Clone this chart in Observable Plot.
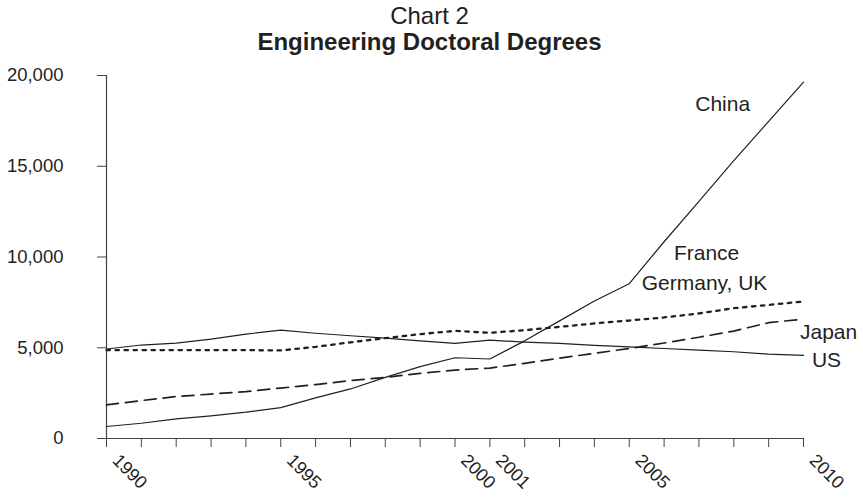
<!DOCTYPE html>
<html>
<head>
<meta charset="utf-8">
<script src="https://cdn.jsdelivr.net/npm/d3@7"></script>
<script src="https://cdn.jsdelivr.net/npm/@observablehq/plot@0.6"></script>
<style>
  html, body { margin: 0; padding: 0; background: #fff; }
  body { width: 863px; font-family: "Liberation Sans", Arial, Helvetica, sans-serif; color: #231f20; }
  #title { box-sizing: border-box; height: 60px; padding-top: 3px; text-align: center; font-size: 24px; line-height: 26px; padding-right: 4px; }
  #title b { font-weight: bold; }
  svg { display: block; }
</style>
</head>
<body>
<div id="title">Chart 2<br><b>Engineering Doctoral Degrees</b></div>
<div id="chart"></div>
<script>
const years = [1990,1991,1992,1993,1994,1995,1996,1997,1998,1999,2000,2001,2002,2003,2004,2005,2006,2007,2008,2009,2010];
const china = [660,840,1080,1250,1450,1700,2240,2730,3370,3960,4450,4380,5380,6480,7580,8530,10840,13060,15310,17470,19630];
const franceGermanyUK = [4870,4870,4870,4870,4870,4850,5050,5300,5530,5750,5930,5820,5970,6150,6340,6500,6670,6890,7180,7360,7550];
const japan = [1850,2090,2310,2450,2580,2780,2970,3190,3370,3590,3770,3880,4140,4430,4690,4960,5260,5580,5920,6380,6580];
const us = [4930,5150,5260,5480,5750,5970,5800,5660,5530,5380,5240,5420,5310,5240,5130,5050,4960,4870,4780,4650,4580];

const yTicks = [0,5000,10000,15000,20000];
const xLabelYears = [1990,1995,2000,2001,2005,2010];

const labelText = ["China","France","Germany, UK","Japan","US"];
const labelYear = [2007.68,2007.22,2007.16,2010.72,2010.66];
const labelValue = [18400,10190,8540,5840,4300];

const series = (name, vals) => years.map((y, i) => ({series: name, year: y, value: vals[i]}));
const labels = labelText.map((t, i) => ({text: t, year: labelYear[i], value: labelValue[i]}));

const ink = "#231f20";
const plot = Plot.plot({
  width: 863,
  height: 439,
  marginTop: 15,
  marginBottom: 61,
  marginLeft: 106,
  marginRight: 60,
  style: {fontFamily: '"Liberation Sans", Arial, Helvetica, sans-serif', color: ink, background: "#fff"},
  x: {domain: [1990, 2010]},
  y: {domain: [0, 20000]},
  marks: [
    Plot.axisY({ticks: yTicks, tickFormat: d3.format(","), tickSize: 9, tickPadding: 34, fontSize: 18.5, label: null, stroke: "#444"}),
    Plot.axisX({ticks: years, text: null, tickSize: 9, label: null, stroke: "#444"}),
    Plot.axisX({ticks: xLabelYears, tickFormat: d => String(d), tickSize: 0, tickPadding: 19, tickRotate: 45, dx: 9, fontSize: 18, label: null, fill: ink}),
    Plot.ruleX([1990], {stroke: "#444", strokeWidth: 1.2}),
    Plot.ruleY([0], {stroke: "#444", strokeWidth: 1.2}),
    Plot.line(series("Japan", japan), {x: "year", y: "value", stroke: ink, strokeWidth: 1.7, strokeDasharray: "12,7"}),
    Plot.line(series("France, Germany, UK", franceGermanyUK), {x: "year", y: "value", stroke: ink, strokeWidth: 2.3, strokeDasharray: "3.5,5.5"}),
    Plot.line(series("US", us), {x: "year", y: "value", stroke: ink, strokeWidth: 1.2}),
    Plot.line(series("China", china), {x: "year", y: "value", stroke: ink, strokeWidth: 1.2}),
    Plot.text(labels, {x: "year", y: "value", text: "text", fontSize: 21, fill: ink, textAnchor: "middle", lineAnchor: "middle"})
  ]
});
document.getElementById("chart").appendChild(plot);
</script>
</body>
</html>
